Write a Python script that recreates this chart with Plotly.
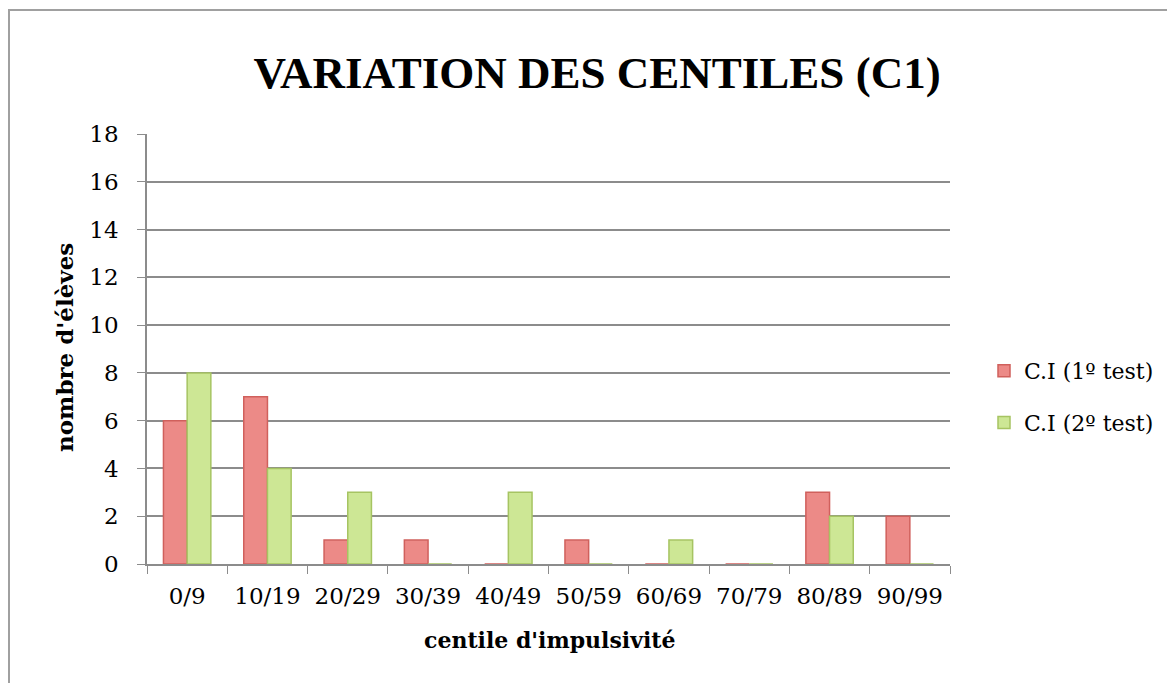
import plotly.graph_objects as go

categories = ["0/9", "10/19", "20/29", "30/39", "40/49", "50/59", "60/69", "70/79", "80/89", "90/99"]
test1 = [6, 7, 1, 1, 0, 1, 0, 0, 3, 2]
test2 = [8, 4, 3, 0, 3, 0, 1, 0, 2, 0]
series_names = ["C.I (1º test)", "C.I (2º test)"]
y_ticks = [0, 2, 4, 6, 8, 10, 12, 14, 16, 18]

FONT = "DejaVu Serif"
TFONT = "Liberation Serif"
OFF = 8  # page body offset
W, H = 1175, 683
# plot area in page coordinates
PL, PR, PT, PB = 147, 950, 134, 564
L, T = PL - OFF, PT - OFF
R = W - (PR - OFF)
B = H - (PB - OFF)
pw, ph = PR - PL, PB - PT

def px(x):
    return (x - PL) / pw

def py(y):
    return (PB - y) / ph

fig = go.Figure()
fig.add_trace(go.Bar(x=categories, y=test1, name=series_names[0], legendgroup="a",
                     marker=dict(color="#ec8a87", line=dict(color="#d0605c", width=1.5))))
fig.add_trace(go.Bar(x=categories, y=test2, name=series_names[1], legendgroup="b",
                     marker=dict(color="#cde795", line=dict(color="#a6c462", width=1.5))))

fig.update_layout(
    width=W, height=H,
    margin=dict(l=L, r=R, t=T, b=B),
    paper_bgcolor="white", plot_bgcolor="white",
    barmode="group", bargap=0.41, bargroupgap=0,
    font=dict(family=FONT, size=23, color="black"),
    title=dict(text="<b>VARIATION DES CENTILES (C1)</b>", xref="container",
               x=(597 - OFF) / W, xanchor="center",
               y=1 - (72 - OFF) / H, yanchor="middle",
               font=dict(family=TFONT, size=45, color="black")),
    legend=dict(x=px(984), y=py(397), xanchor="left", yanchor="middle",
                font=dict(family=FONT, size=22), traceorder="grouped", tracegroupgap=20,
                itemwidth=30, bgcolor="rgba(0,0,0,0)"),
    showlegend=True,
    shapes=[dict(type="rect", xref="paper", yref="paper",
                 x0=px(9), x1=px(1190), y0=py(700), y1=py(10),
                 line=dict(color="#a0a0a0", width=2), layer="below")],
    annotations=[
        dict(text="<b>centile d'impulsivité</b>", xref="paper", yref="paper",
             x=px(549), y=py(640), xanchor="center", yanchor="middle", showarrow=False,
             font=dict(family=FONT, size=22)),
        dict(text="<b>nombre d'élèves</b>", xref="paper", yref="paper",
             x=px(64), y=py(348), xanchor="center", yanchor="middle", showarrow=False,
             textangle=-90, font=dict(family=FONT, size=23)),
    ],
)
fig.update_xaxes(
    showline=True, linecolor="#8c8c8c", linewidth=1.5,
    ticks="outside", ticklen=8, tickcolor="#8c8c8c", tickson="boundaries",
    showgrid=False, ticklabelstandoff=11,
    tickfont=dict(family=FONT, size=23),
)
fig.update_yaxes(
    range=[0, 18], tickvals=y_ticks,
    showline=True, linecolor="#8c8c8c", linewidth=1.5,
    ticks="outside", ticklen=8, tickcolor="#8c8c8c",
    showgrid=True, gridcolor="#8c8c8c", gridwidth=1.5,
    zeroline=False, ticklabelstandoff=14,
    tickfont=dict(family=FONT, size=23),
)

fig.write_html("out.html")
